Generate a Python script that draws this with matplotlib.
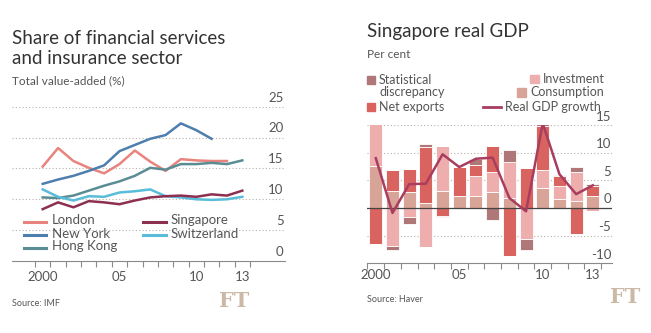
import matplotlib
matplotlib.use("Agg")
import matplotlib.pyplot as plt
import numpy as np
from matplotlib.lines import Line2D
from matplotlib.patches import Rectangle
import matplotlib.transforms as mtransforms

plt.rcParams['font.family'] = ['Lato', 'DejaVu Sans']

# ---------------- Left chart data ----------------
years_l = list(range(2000, 2014))
london = [15.3, 18.3, 16.2, 15.1, 14.2, 15.7, 17.9, 16.1, 14.6, 16.5, 16.3, 16.2, 16.2]
new_york = [12.5, 13.2, 13.8, 14.6, 15.5, 17.8, 18.8, 19.8, 20.4, 22.3, 21.2, 19.8]
hong_kong = [10.3, 10.2, 10.6, 11.4, 12.2, 12.9, 13.8, 15.1, 14.8, 15.7, 15.7, 15.9, 15.7, 16.3]
switzerland = [11.6, 10.4, 9.8, 10.5, 10.4, 11.1, 11.3, 11.6, 10.5, 10.3, 10.0, 9.9, 10.0, 10.4]
singapore = [8.4, 9.5, 8.7, 9.7, 9.5, 9.2, 9.8, 10.3, 10.5, 10.6, 10.4, 10.8, 10.6, 11.4]
yticks_l = [0, 5, 10, 15, 20, 25]
xlabels_l = {2000: "2000", 2005: "05", 2010: "10", 2013: "13"}

# ---------------- Right chart data ----------------
years_r = list(range(2000, 2014))
consumption = [7.6, 3.0, 2.9, 0.9, 3.0, 2.1, 2.2, 2.85, 1.75, 0.0, 3.6, 1.6, 1.3, 2.1]
investment = [7.9, -6.8, -1.7, -7.0, 8.2, 0.0, 3.6, 3.65, 6.55, -5.6, 3.25, 2.3, 5.2, -0.55]
net_exports = [-6.5, 3.8, 4.2, 10.1, -1.4, 5.3, 2.0, 4.7, -8.6, 7.2, 8.0, 1.85, -4.7, 1.8]
stat_disc = [0.0, -0.8, -1.15, 0.6, -0.3, 0.0, 1.0, -2.1, 2.2, -2.0, 0.45, 0.25, 0.9, 0.5]
gdp_growth = [9.0, -0.9, 4.3, 4.4, 9.7, 7.4, 8.9, 9.1, 1.8, -0.6, 15.3, 6.1, 2.5, 4.1]
yticks_r = [-10, -5, 0, 5, 10, 15]
xlabels_r = {2000: "2000", 2005: "05", 2010: "10", 2013: "13"}

W, H = 651, 333
fig = plt.figure(figsize=(W / 100, H / 100), dpi=100)
fig.patch.set_facecolor("white")

def fx(px):
    return px / W

def fy(py):
    return 1 - py / H

TEXT = "#333333"
GREY = "#555555"
GRID = "#b8b0a8"
AXIS = "#8a8a8a"
LEGFS = 9

# ================= LEFT =================
axl = fig.add_axes([fx(12), fy(261), fx(285) - fx(12), fy(106.7) - fy(261)])
axl.set_xlim(1998.0, 2015.78)
axl.set_ylim(0, 25)
for s in ["top", "right", "left"]:
    axl.spines[s].set_visible(False)
axl.spines["bottom"].set_color(AXIS)
axl.spines["bottom"].set_linewidth(0.8)
for v in yticks_l[1:]:
    axl.axhline(v, color=GRID, lw=0.8, ls=(0, (1, 2)), zorder=0)
axl.set_yticks([])
trans_l = mtransforms.blended_transform_factory(axl.transAxes, axl.transData)
for v in yticks_l:
    axl.text(0.995, v + 0.5, str(v), transform=trans_l, ha="right", va="bottom",
             fontsize=9.5, color=GREY)
axl.set_xticks(np.arange(1999.5, 2014.5, 1.0))
axl.set_xticklabels([])
axl.tick_params(axis="x", length=4, color=AXIS, width=0.8, direction="out")
for yr, lab in xlabels_l.items():
    axl.text(yr, -1.6, lab, ha="center", va="top", fontsize=9.5, color=GREY)

c_london = "#e8837d"
c_ny = "#4d7ead"
c_hk = "#5a8c93"
c_sw = "#59bcd9"
c_sg = "#8c2f50"
lw = 1.8
axl.plot(years_l[:len(london)], london, color=c_london, lw=lw, zorder=3)
axl.plot(years_l[:len(new_york)], new_york, color=c_ny, lw=lw, zorder=3)
axl.plot(years_l[:len(hong_kong)], hong_kong, color=c_hk, lw=lw, zorder=3)
axl.plot(years_l[:len(switzerland)], switzerland, color=c_sw, lw=lw, zorder=3)
axl.plot(years_l[:len(singapore)], singapore, color=c_sg, lw=lw, zorder=4)

# left legend
leg_items_l = [
    ("London", c_london, 24, 46, 52, 220),
    ("New York", c_ny, 24, 46, 52, 233.5),
    ("Hong Kong", c_hk, 24, 46, 52, 246.5),
    ("Singapore", c_sg, 143, 166, 171, 220),
    ("Switzerland", c_sw, 143, 166, 171, 233.5),
]
for name, col, x0, x1, xt, yy in leg_items_l:
    fig.add_artist(Line2D([fx(x0), fx(x1)], [fy(yy + 1.5), fy(yy + 1.5)], color=col, lw=2.2,
                          transform=fig.transFigure))
    fig.text(fx(xt), fy(yy), name, ha="left", va="center", fontsize=9.5, color=GREY)

fig.text(fx(12), fy(38), "Share of financial services", fontsize=13.5, color=TEXT, va="center")
fig.text(fx(12), fy(58), "and insurance sector", fontsize=13.5, color=TEXT, va="center")
fig.text(fx(12), fy(81), "Total value-added (%)", fontsize=8.5, color=GREY, va="center")
fig.text(fx(12), fy(303), "Source: IMF", fontsize=6.5, color=GREY, va="center")
fig.text(fx(249), fy(301), "FT", fontsize=15, color="#cbb9a6", va="center", ha="right",
         family="DejaVu Serif", weight="bold")

# ================= RIGHT =================
axr = fig.add_axes([fx(366.7), fy(263.3), fx(611.7) - fx(366.7), fy(125) - fy(263.3)])
axr.set_xlim(1999.455, 2014.13)
axr.set_ylim(-10, 15)
for s in ["top", "right", "left"]:
    axr.spines[s].set_visible(False)
axr.spines["bottom"].set_color(AXIS)
axr.spines["bottom"].set_linewidth(0.8)
for v in yticks_r:
    if v in (-10, 0):
        continue
    axr.axhline(v, color=GRID, lw=0.8, ls=(0, (1, 2)), zorder=0)
axr.axhline(0, color="#444444", lw=0.9, zorder=5)
axr.set_yticks([])
trans_r = mtransforms.blended_transform_factory(axr.transAxes, axr.transData)
for v in yticks_r:
    axr.text(0.998, v + 0.45, str(v), transform=trans_r, ha="right", va="bottom",
             fontsize=9.5, color=GREY)
axr.set_xticks(np.arange(1999.5, 2014.5, 1.0))
axr.set_xticklabels([])
axr.tick_params(axis="x", length=4, color=AXIS, width=0.8, direction="out")
for yr, lab in xlabels_r.items():
    axr.text(yr, -11.0, lab, ha="center", va="top", fontsize=9.5, color=GREY)

c_cons = "#d9a498"
c_inv = "#eeaeae"
c_nx = "#d9645f"
c_sd = "#b07778"
c_gdp = "#a83d60"

series = [(consumption, c_cons), (investment, c_inv), (net_exports, c_nx), (stat_disc, c_sd)]
pos_base = np.zeros(len(years_r))
neg_base = np.zeros(len(years_r))
bw = 0.78
for vals, col in series:
    vals = np.array(vals, dtype=float)
    pos = np.where(vals > 0, vals, 0)
    neg = np.where(vals < 0, vals, 0)
    axr.bar(years_r, pos, bottom=pos_base, width=bw, color=col, edgecolor="white",
            linewidth=0.6, zorder=2)
    axr.bar(years_r, neg, bottom=neg_base, width=bw, color=col, edgecolor="white",
            linewidth=0.6, zorder=2)
    pos_base += pos
    neg_base += neg

axr.plot(years_r, gdp_growth, color=c_gdp, lw=1.8, zorder=6)

# right legend
def sq(x0, x1, yc, col):
    fig.add_artist(Rectangle((fx(x0), fy(yc + 4)), fx(x1) - fx(x0), fy(yc - 4) - fy(yc + 4),
                             transform=fig.transFigure, color=col))

sq(367, 375, 80, c_sd)
fig.text(fx(379), fy(80), "Statistical", fontsize=LEGFS, color=GREY, va="center")
fig.text(fx(379), fy(92.5), "discrepancy", fontsize=LEGFS, color=GREY, va="center")
sq(367, 375, 107, c_nx)
fig.text(fx(379), fy(107), "Net exports", fontsize=LEGFS, color=GREY, va="center")
sq(530, 539, 79, c_inv)
fig.text(fx(543), fy(79), "Investment", fontsize=LEGFS, color=GREY, va="center")
sq(517, 526, 92.5, c_cons)
fig.text(fx(530), fy(92.5), "Consumption", fontsize=LEGFS, color=GREY, va="center")
fig.add_artist(Line2D([fx(483), fx(501)], [fy(107), fy(107)], color=c_gdp, lw=2.0,
                      transform=fig.transFigure))
fig.text(fx(505), fy(107), "Real GDP growth", fontsize=LEGFS, color=GREY, va="center")

fig.text(fx(367), fy(32), "Singapore real GDP", fontsize=13.5, color=TEXT, va="center")
fig.text(fx(367), fy(54), "Per cent", fontsize=8.5, color=GREY, va="center")
fig.text(fx(367), fy(299), "Source: Haver", fontsize=6.5, color=GREY, va="center")
fig.text(fx(640), fy(297), "FT", fontsize=15, color="#cbb9a6", va="center", ha="right",
         family="DejaVu Serif", weight="bold")

fig.savefig("out.png", dpi=100, facecolor="white")
